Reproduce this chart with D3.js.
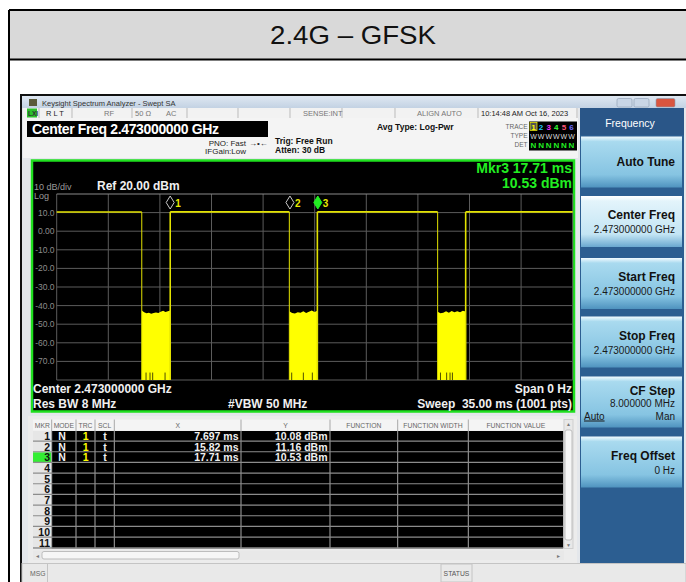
<!DOCTYPE html>
<html>
<head>
<meta charset="utf-8">
<script src="https://cdn.jsdelivr.net/npm/d3@7"></script>
<style>
body{margin:0;background:#fff;}
svg{display:block;font-family:"Liberation Sans",Arial,sans-serif;}
</style>
</head>
<body>
<script>
//values
var sweepMs = 35,
    refLevel = 20,
    bottomLevel = -80;
var yTickValues = [10, 0, -10, -20, -30, -40, -50, -60, -70];
var yTickLabels = ["10.0", "0.00", "-10.0", "-20.0", "-30.0", "-40.0", "-50.0", "-60.0", "-70.0"];

//trace "on" plateaus (ms start, ms end, dBm)
var highStart = [0, 7.70, 17.68, 27.74];
var highEnd = [5.77, 15.78, 25.84, 35];
var highLevel = [10.3, 10.4, 10.4, 10.4];

//bursts (ms) and their ragged top levels (dBm)
var burstStart = [5.77, 15.78, 25.84];
var burstEnd = [7.70, 17.68, 27.74];
var burstTops = [
    [-42.6, -43.6, -44.1, -43.9, -44.4, -44.0, -43.7, -44.0, -43.3, -42.8, -43.5, -43.0, -42.7],
    [-43.0, -44.0, -44.3, -43.6, -43.9, -43.1, -44.0, -43.3, -42.6, -43.5, -42.8],
    [-43.3, -44.1, -43.8, -43.1, -43.9, -42.9, -43.6, -43.0, -43.6, -42.8, -43.2]
];
//dropouts at the burst floor (ms)
var burstGaps = [6.06, 6.33, 6.51, 7.35, 15.94, 16.73, 17.34, 26.03, 26.45, 26.68, 26.84];

//marker table
var markerTimes = [7.697, 15.82, 17.71];
var markerLevels = [10.08, 11.16, 10.53];
var markerModes = ["N", "N", "N"];
var markerTraces = ["1", "1", "1"];
var markerScales = ["t", "t", "t"];
var markerRows = d3.range(1, 12);
var tableColumns = ["MKR", "MODE", "TRC", "SCL", "X", "Y", "FUNCTION", "FUNCTION WIDTH", "FUNCTION VALUE"];

//frequency menu softkeys
var softkeyLabels = ["Auto Tune", "Center Freq", "Start Freq", "Stop Freq", "CF Step", "Freq Offset"];
var softkeyValues = ["", "2.473000000 GHz", "2.473000000 GHz", "2.473000000 GHz", "8.000000 MHz", "0 Hz"];

var width = 686,
    height = 582;

var svg = d3.select("body")
    .append("svg")
    .attr("width", width)
    .attr("height", height);

var defs = svg.append("defs");

function vGrad(id, stops){
    var g = defs.append("linearGradient").attr("id", id)
        .attr("x1", 0).attr("y1", 0).attr("x2", 0).attr("y2", 1);
    stops.forEach(function(s){
        g.append("stop").attr("offset", s[0]).attr("stop-color", s[1]);
    });
}
vGrad("titleBar", [[0, "#dfe8f2"], [1, "#c3d2e3"]]);
vGrad("keyNormal", [[0, "#f2fbff"], [0.1, "#a9daef"], [0.75, "#86c4e2"], [1, "#4f93bf"]]);
vGrad("keyActive", [[0, "#ffffff"], [0.1, "#e3f4fb"], [0.75, "#c3e5f4"], [1, "#6aa8cf"]]);

//page table cell with grey header
svg.append("rect").attr("x", 9).attr("y", 10).attr("width", width).attr("height", 49).attr("fill", "#d9d9d9");
svg.append("path").attr("d", "M9,10H686M9,59.5H686M9,10V582").attr("stroke", "#000").attr("stroke-width", 2).attr("fill", "none");
svg.append("text")
    .attr("x", 353).attr("y", 44)
    .attr("text-anchor", "middle")
    .attr("font-size", 25)
    .attr("textLength", 166)
    .attr("lengthAdjust", "spacingAndGlyphs")
    .attr("fill", "#111")
    .text("2.4G \u2013 GFSK");

//analyzer window
svg.append("rect").attr("x", 21).attr("y", 95).attr("width", 670).attr("height", 492)
    .attr("fill", "#e4e7eb").attr("stroke", "#111").attr("stroke-width", 2);
svg.append("rect").attr("x", 22).attr("y", 96).attr("width", 664).attr("height", 12).attr("fill", "url(#titleBar)");
svg.append("rect").attr("x", 29).attr("y", 99).attr("width", 8).attr("height", 7).attr("fill", "#5a5a3a");
svg.append("text").attr("x", 42).attr("y", 105.5).attr("font-size", 7.5).attr("fill", "#333")
    .text("Keysight Spectrum Analyzer - Swept SA");

//window buttons
[[617, "#c9d6e6"], [634, "#c9d6e6"], [656, "#d9553f"]].forEach(function(b, i){
    svg.append("rect").attr("x", b[0]).attr("y", 98.5).attr("width", i == 2 ? 19 : 15).attr("height", 8.5)
        .attr("rx", 1.5).attr("fill", b[1]).attr("stroke", "#8a9bb0").attr("stroke-width", 0.6);
});

//status row
svg.append("rect").attr("x", 23).attr("y", 108).attr("width", 555).attr("height", 10).attr("fill", "#f2f2f2");
svg.append("rect").attr("x", 27).attr("y", 108.5).attr("width", 10).attr("height", 9).attr("fill", "#2bc02b");
svg.append("text").attr("x", 28).attr("y", 116).attr("font-size", 6.5).attr("font-weight", "bold").attr("fill", "#333").text("LXI");
[39, 72, 132, 187, 238, 290, 342, 395, 478, 577].forEach(function(x){
    svg.append("line").attr("x1", x).attr("x2", x).attr("y1", 108).attr("y2", 118).attr("stroke", "#bbb");
});
[["R L T", 46], ["RF", 104], ["50 \u03a9", 135], ["AC", 166], ["SENSE:INT", 303], ["ALIGN AUTO", 417], ["10:14:48 AM Oct 16, 2023", 481]]
    .forEach(function(s){
        svg.append("text").attr("x", s[1]).attr("y", 115.8).attr("font-size", 7.5)
            .attr("fill", s[0] == "R L T" || s[0].indexOf("10:") == 0 ? "#222" : "#777").text(s[0]);
    });

//setting summary
svg.append("rect").attr("x", 23).attr("y", 118).attr("width", 555).attr("height", 40).attr("fill", "#f4f4f4");
svg.append("rect").attr("x", 27).attr("y", 121).attr("width", 241).attr("height", 16).attr("fill", "#000");
svg.append("text").attr("x", 32).attr("y", 134).attr("font-size", 14).attr("font-weight", "bold")
    .attr("fill", "#fff").attr("textLength", 187).text("Center Freq 2.473000000 GHz");
svg.append("text").attr("x", 246).attr("y", 145.5).attr("text-anchor", "end").attr("font-size", 8).attr("fill", "#222").text("PNO: Fast");
svg.append("text").attr("x", 249).attr("y", 145.5).attr("font-size", 8).attr("fill", "#222").text("\u2192\u2022\u2190");
svg.append("text").attr("x", 246).attr("y", 153.5).attr("text-anchor", "end").attr("font-size", 8).attr("fill", "#222").text("IFGain:Low");
svg.append("text").attr("x", 275).attr("y", 143.5).attr("font-size", 8.5).attr("font-weight", "bold").attr("fill", "#111").text("Trig: Free Run");
svg.append("text").attr("x", 275).attr("y", 152.5).attr("font-size", 8.5).attr("font-weight", "bold").attr("fill", "#111").text("Atten: 30 dB");
svg.append("text").attr("x", 377).attr("y", 130).attr("font-size", 8.5).attr("font-weight", "bold").attr("fill", "#111").text("Avg Type: Log-Pwr");

//trace / type / detector box
svg.append("rect").attr("x", 529).attr("y", 121.5).attr("width", 48).attr("height", 29).attr("fill", "#000");
["TRACE", "TYPE", "DET"].forEach(function(t, i){
    svg.append("text").attr("x", 527.5).attr("y", 129 + i * 9).attr("text-anchor", "end")
        .attr("font-size", 6.5).attr("fill", "#666").text(t);
});
var traceColors = ["#ffff00", "#22c8ff", "#ff33ff", "#33ff33", "#ff5577", "#6a6aff"];
svg.append("rect").attr("x", 530).attr("y", 122.5).attr("width", 7).attr("height", 8).attr("fill", "#555").attr("stroke", "#ffff00").attr("stroke-width", 0.7);
traceColors.forEach(function(c, i){
    svg.append("text").attr("x", 533.5 + i * 7.6).attr("y", 129.5).attr("text-anchor", "middle")
        .attr("font-size", 8).attr("font-weight", "bold").attr("fill", c).text(i + 1);
    svg.append("text").attr("x", 533.5 + i * 7.6).attr("y", 138.5).attr("text-anchor", "middle")
        .attr("font-size", 7).attr("fill", "#ddd").text("W");
    svg.append("text").attr("x", 533.5 + i * 7.6).attr("y", 147.8).attr("text-anchor", "middle")
        .attr("font-size", 8).attr("font-weight", "bold").attr("fill", "#22ee22").text("N");
});

//graph frame
svg.append("rect").attr("x", 32).attr("y", 160.5).attr("width", 542).attr("height", 251)
    .attr("fill", "#000").attr("stroke", "#1fe01f").attr("stroke-width", 2.5);

//scales
var x = d3.scaleLinear().domain([0, sweepMs]).range([56.7, 572.7]);
var y = d3.scaleLinear().domain([bottomLevel, refLevel]).range([380, 194]);

//graticule
var grid = svg.append("g").attr("class", "grid");
grid.selectAll(".vline")
    .data(d3.range(0, sweepMs + 0.01, sweepMs / 10))
    .enter()
    .append("line")
    .attr("x1", function(d){ return x(d); })
    .attr("x2", function(d){ return x(d); })
    .attr("y1", y(refLevel))
    .attr("y2", y(bottomLevel))
    .attr("stroke", "#5c5c5c")
    .attr("stroke-width", 1);
grid.selectAll(".hline")
    .data(d3.range(bottomLevel, refLevel + 0.01, 10))
    .enter()
    .append("line")
    .attr("x1", x(0))
    .attr("x2", x(sweepMs))
    .attr("y1", function(d){ return y(d); })
    .attr("y2", function(d){ return y(d); })
    .attr("stroke", function(d){ return d == refLevel ? "#8a8a8a" : "#5c5c5c"; })
    .attr("stroke-width", 1);

//y tick labels
svg.selectAll(".ylab")
    .data(yTickValues)
    .enter()
    .append("text")
    .attr("x", 54.5)
    .attr("y", function(d){ return y(d) + 3; })
    .attr("text-anchor", "end")
    .attr("font-size", 8.5)
    .attr("fill", "#8c8c8c")
    .text(function(d, i){ return yTickLabels[i]; });

svg.append("text").attr("x", 34).attr("y", 189.5).attr("font-size", 9).attr("fill", "#9a9a9a").text("10 dB/div");
svg.append("text").attr("x", 34).attr("y", 199).attr("font-size", 9).attr("fill", "#9a9a9a").text("Log");
svg.append("text").attr("x", 97).attr("y", 190).attr("font-size", 12).attr("font-weight", "bold").attr("fill", "#f0f0f0").text("Ref 20.00 dBm");

//burst fills
var bursts = burstStart.map(function(s, i){ return {start: s, end: burstEnd[i], tops: burstTops[i]}; });
svg.selectAll(".burst")
    .data(bursts)
    .enter()
    .append("path")
    .attr("class", "burst")
    .attr("fill", "#ffff00")
    .attr("d", function(b){
        var step = (b.end - b.start) / (b.tops.length - 1);
        var pts = [[x(b.start), y(bottomLevel)]];
        b.tops.forEach(function(t, k){ pts.push([x(b.start + k * step), y(t)]); });
        pts.push([x(b.end), y(bottomLevel)]);
        return d3.line()(pts) + "Z";
    });

//dropouts at burst floor
svg.selectAll(".gap")
    .data(burstGaps)
    .enter()
    .append("line")
    .attr("x1", function(d){ return x(d); })
    .attr("x2", function(d){ return x(d); })
    .attr("y1", y(bottomLevel))
    .attr("y2", y(-76))
    .attr("stroke", "#000")
    .attr("stroke-width", 0.7);

//plateaus
svg.selectAll(".high")
    .data(highStart)
    .enter()
    .append("line")
    .attr("x1", function(d){ return x(d); })
    .attr("x2", function(d, i){ return x(highEnd[i]); })
    .attr("y1", function(d, i){ return y(highLevel[i]); })
    .attr("y2", function(d, i){ return y(highLevel[i]); })
    .attr("stroke", "#e2e200")
    .attr("stroke-width", 1.6);

//edges between plateaus and bursts
var edges = [];
burstStart.forEach(function(s, i){
    edges.push({t: s, top: highLevel[i]});
    edges.push({t: burstEnd[i], top: highLevel[i + 1]});
});
svg.selectAll(".edge")
    .data(edges)
    .enter()
    .append("line")
    .attr("x1", function(d){ return x(d.t); })
    .attr("x2", function(d){ return x(d.t); })
    .attr("y1", function(d){ return y(d.top); })
    .attr("y2", y(bottomLevel))
    .attr("stroke", "#e2e200")
    .attr("stroke-width", function(d, i){ return i % 2 ? 1.6 : 1; });

//marker diamonds
var mk = svg.selectAll(".mk")
    .data(markerTimes)
    .enter()
    .append("g")
    .attr("transform", function(d){ return "translate(" + x(d) + ",202.5)"; });
mk.append("path")
    .attr("d", "M0,-6.5L4,0L0,6.5L-4,0Z")
    .attr("fill", function(d, i){ return i == 2 ? "#22ee22" : "#000"; })
    .attr("stroke", function(d, i){ return i == 2 ? "#22ee22" : "#c8c8c8"; })
    .attr("stroke-width", 1);
mk.append("text")
    .attr("x", 5)
    .attr("y", 4)
    .attr("font-size", 10)
    .attr("font-weight", "bold")
    .attr("fill", "#e8e800")
    .text(function(d, i){ return i + 1; });

//active marker readout
svg.append("text").attr("x", 572).attr("y", 172.5).attr("text-anchor", "end")
    .attr("font-size", 14).attr("font-weight", "bold").attr("fill", "#22ee22")
    .text("Mkr3 " + d3.format(".4")(markerTimes[2]) + " ms");
svg.append("text").attr("x", 572).attr("y", 187.5).attr("text-anchor", "end")
    .attr("font-size", 14).attr("font-weight", "bold").attr("fill", "#22ee22")
    .text(d3.format(".2f")(markerLevels[2]) + " dBm");

//bottom annotations
svg.append("text").attr("x", 33).attr("y", 393).attr("font-size", 12).attr("font-weight", "bold").attr("fill", "#f0f0f0").text("Center 2.473000000 GHz");
svg.append("text").attr("x", 33).attr("y", 407.5).attr("font-size", 12).attr("font-weight", "bold").attr("fill", "#f0f0f0").text("Res BW 8 MHz");
svg.append("text").attr("x", 228).attr("y", 407.5).attr("font-size", 12).attr("font-weight", "bold").attr("fill", "#f0f0f0").text("#VBW 50 MHz");
svg.append("text").attr("x", 572).attr("y", 393).attr("text-anchor", "end").attr("font-size", 12).attr("font-weight", "bold").attr("fill", "#f0f0f0").text("Span 0 Hz");
svg.append("text").attr("x", 572).attr("y", 407.5).attr("text-anchor", "end").attr("font-size", 12).attr("font-weight", "bold").attr("fill", "#f0f0f0")
    .attr("xml:space", "preserve").text("Sweep  35.00 ms (1001 pts)");

//marker table
var colEdges = [33, 51.7, 76, 95, 114.3, 241, 330, 397.7, 468.3, 563.3];
var rowTop = 431,
    rowH = 10.67;
svg.append("rect").attr("x", 28).attr("y", 416).attr("width", 549).attr("height", 147).attr("fill", "#ececec");
svg.append("rect").attr("x", 33).attr("y", 419.5).attr("width", 530.3).attr("height", 11).attr("fill", "#f4f4f4");
svg.append("rect").attr("x", 33).attr("y", rowTop).attr("width", 530.3).attr("height", rowH * 11).attr("fill", "#000");
svg.append("rect").attr("x", 33).attr("y", rowTop).attr("width", 18.7).attr("height", rowH * 11).attr("fill", "#e6e6e6");
svg.append("rect").attr("x", 33).attr("y", rowTop + rowH * 2).attr("width", 18.7).attr("height", rowH).attr("fill", "#33ee33");

svg.selectAll(".colh")
    .data(tableColumns)
    .enter()
    .append("text")
    .attr("x", function(d, i){ return (colEdges[i] + colEdges[i + 1]) / 2; })
    .attr("y", 427.8)
    .attr("text-anchor", "middle")
    .attr("font-size", 6.8)
    .attr("fill", "#666")
    .text(function(d){ return d; });

svg.selectAll(".colline")
    .data(colEdges.slice(1, 9))
    .enter()
    .append("line")
    .attr("x1", function(d){ return d; })
    .attr("x2", function(d){ return d; })
    .attr("y1", 419.5)
    .attr("y2", rowTop + rowH * 11)
    .attr("stroke", "#a8a8a8")
    .attr("stroke-width", 1);

svg.selectAll(".rowline")
    .data(markerRows)
    .enter()
    .append("line")
    .attr("x1", 33)
    .attr("x2", 563.3)
    .attr("y1", function(d){ return rowTop + d * rowH - 0.6; })
    .attr("y2", function(d){ return rowTop + d * rowH - 0.6; })
    .attr("stroke", "#8c8c8c")
    .attr("stroke-width", 1.2);

svg.selectAll(".rownum")
    .data(markerRows)
    .enter()
    .append("text")
    .attr("x", 50)
    .attr("y", function(d){ return rowTop + (d - 1) * rowH + 9; })
    .attr("text-anchor", "end")
    .attr("font-size", 10.5)
    .attr("font-weight", "bold")
    .attr("fill", "#111")
    .text(function(d){ return d; });

var mrow = svg.selectAll(".mrow")
    .data(markerTimes)
    .enter()
    .append("g")
    .attr("transform", function(d, i){ return "translate(0," + (rowTop + i * rowH + 9) + ")"; })
    .attr("font-size", 10.5)
    .attr("font-weight", "bold");
mrow.append("text").attr("x", 62).attr("text-anchor", "middle").attr("fill", "#f0f0f0").text(function(d, i){ return markerModes[i]; });
mrow.append("text").attr("x", 85.7).attr("text-anchor", "middle").attr("fill", "#ffff00").text(function(d, i){ return markerTraces[i]; });
mrow.append("text").attr("x", 105).attr("text-anchor", "middle").attr("fill", "#f0f0f0").text(function(d, i){ return markerScales[i]; });
mrow.append("text").attr("x", 238.5).attr("text-anchor", "end").attr("fill", "#f0f0f0")
    .text(function(d){ return d3.format(".4")(d) + " ms"; });
mrow.append("text").attr("x", 327.5).attr("text-anchor", "end").attr("fill", "#f0f0f0")
    .text(function(d, i){ return d3.format(".2f")(markerLevels[i]) + " dBm"; });

//table scrollbars
svg.append("rect").attr("x", 564).attr("y", 419.5).attr("width", 9).attr("height", 129).attr("fill", "#e8e8e8").attr("stroke", "#cfcfcf");
svg.append("rect").attr("x", 565).attr("y", 430).attr("width", 7).attr("height", 110).attr("rx", 2).attr("fill", "#f6f6f6").attr("stroke", "#bdbdbd");
svg.append("rect").attr("x", 33).attr("y", 550.5).attr("width", 531).attr("height", 9.5).attr("fill", "#e8e8e8");
svg.append("rect").attr("x", 42).attr("y", 551.5).attr("width", 197).attr("height", 7.5).attr("rx", 2).attr("fill", "#f6f6f6").attr("stroke", "#bdbdbd");
svg.append("text").attr("x", 36).attr("y", 558).attr("font-size", 6).attr("fill", "#777").text("\u25c2");
svg.append("text").attr("x", 557).attr("y", 558).attr("font-size", 6).attr("fill", "#777").text("\u25b8");
svg.append("text").attr("x", 568.5).attr("y", 426).attr("text-anchor", "middle").attr("font-size", 5).attr("fill", "#777").text("\u25b2");
svg.append("text").attr("x", 568.5).attr("y", 547).attr("text-anchor", "middle").attr("font-size", 5).attr("fill", "#777").text("\u25bc");

//message / status bar
svg.append("rect").attr("x", 22).attr("y", 563.5).attr("width", 664).attr("height", 20).attr("fill", "#e9e9e9").attr("stroke", "#c4c4c4");
svg.append("line").attr("x1", 47.5).attr("x2", 47.5).attr("y1", 564).attr("y2", 582).attr("stroke", "#c4c4c4");
svg.append("text").attr("x", 30).attr("y", 576).attr("font-size", 6.8).attr("fill", "#666").text("MSG");
svg.append("rect").attr("x", 441).attr("y", 564).attr("width", 31).attr("height", 18).attr("fill", "none").attr("stroke", "#c4c4c4");
svg.append("text").attr("x", 456.5).attr("y", 576).attr("text-anchor", "middle").attr("font-size", 6.8).attr("fill", "#555").text("STATUS");

//frequency softkey panel
svg.append("rect").attr("x", 580).attr("y", 108).attr("width", 104).attr("height", 455).attr("fill", "#2c5e91");
svg.append("rect").attr("x", 580).attr("y", 108).attr("width", 104).attr("height", 27).attr("fill", "#2a5688");
svg.append("text").attr("x", 630).attr("y", 126.5).attr("text-anchor", "middle").attr("font-size", 10.5).attr("fill", "#fff").text("Frequency");

var keyTops = [136.5, 196, 258, 316.5, 376.5, 436.5];
var keys = svg.selectAll(".key")
    .data(softkeyLabels)
    .enter()
    .append("g")
    .attr("transform", function(d, i){ return "translate(581," + keyTops[i] + ")"; });
keys.append("rect")
    .attr("width", 101)
    .attr("height", 51)
    .attr("fill", function(d, i){ return i == 1 ? "url(#keyActive)" : "url(#keyNormal)"; });
keys.append("text")
    .attr("x", 94)
    .attr("y", function(d, i){ return i == 0 ? 29 : i == 4 ? 18 : 23; })
    .attr("text-anchor", "end")
    .attr("font-size", 12)
    .attr("font-weight", "bold")
    .attr("fill", "#111")
    .text(function(d){ return d; });
keys.append("text")
    .attr("x", 94)
    .attr("y", function(d, i){ return i == 4 ? 30 : 37; })
    .attr("text-anchor", "end")
    .attr("font-size", 10)
    .attr("fill", "#1a1a1a")
    .text(function(d, i){ return softkeyValues[i]; });
//auto / man toggle on cf step
var cf = keys.filter(function(d, i){ return i == 4; });
cf.append("text").attr("x", 3).attr("y", 43).attr("font-size", 10).attr("fill", "#1a1a1a").attr("text-decoration", "underline").text("Auto");
cf.append("text").attr("x", 94).attr("y", 43).attr("text-anchor", "end").attr("font-size", 10).attr("fill", "#1a1a1a").text("Man");
</script>
</body>
</html>
